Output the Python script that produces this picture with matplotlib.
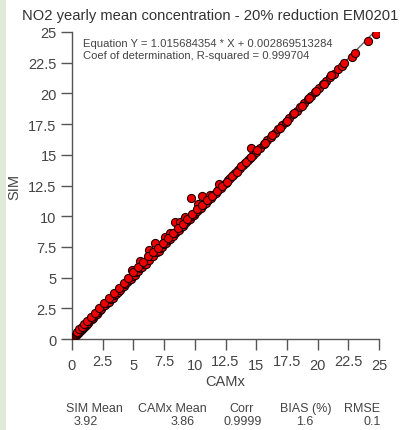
import matplotlib
matplotlib.use("Agg")
import matplotlib.pyplot as plt
from matplotlib.patches import Rectangle
import numpy as np

plt.rcParams['font.family'] = ['Liberation Sans', 'DejaVu Sans']

title = "NO2 yearly mean concentration - 20% reduction EM0201"
eq_text = "Equation Y = 1.015684354 * X + 0.002869513284"
r2_text = "Coef of determination, R-squared = 0.999704"
slope = 1.015684354
intercept = 0.002869513284

camx = [0.25, 0.3, 0.35, 0.4, 0.45, 0.5, 0.55, 0.6, 0.65, 0.7, 0.75, 0.8, 0.85, 0.9, 0.95,
        1.0, 1.05, 1.1, 1.15, 1.2, 1.3, 1.4, 1.5, 1.6, 1.7, 1.8, 1.9, 2.0,
        2.1, 2.25, 2.4, 2.55, 2.7, 2.85, 3.0, 3.15, 3.3, 3.45, 3.6, 3.75, 3.9, 4.05, 4.2,
        4.35, 4.5, 4.65, 4.8, 4.95, 5.1, 5.25, 5.4, 5.55, 5.7, 5.85, 6.0, 6.15, 6.3, 6.45,
        6.6, 6.75, 6.9,
        4.86, 5.54, 6.3, 6.76, 7.57, 8.39, 9.69, 10.56, 14.55,
        7.05, 7.2, 7.35, 7.5, 7.65, 7.8, 7.95, 8.1, 8.25, 8.4, 8.55, 8.7, 8.85, 9.0, 9.15,
        9.3, 9.45, 9.6, 9.75, 9.9, 10.05, 10.2, 10.35, 10.5, 10.7, 10.9, 11.1, 11.3, 11.5,
        11.7, 11.9, 12.1, 12.3, 12.5, 12.7, 12.9, 13.1, 13.3, 13.5, 13.7, 13.9, 14.1, 14.3,
        14.5, 14.75, 15.0,
        8.0, 8.8, 9.2, 10.3, 11.2, 12.0,
        15.3, 15.6, 15.9, 16.2, 16.5, 16.8, 17.1, 17.4, 17.7, 18.0, 18.3, 18.6, 18.9, 19.2,
        19.5, 19.8, 20.1, 20.4, 20.7, 21.0, 21.3, 21.7,
        22.0, 22.15, 22.77, 23.05, 24.08, 24.73,
        0.4, 0.6, 0.8, 1.0, 1.25, 1.55, 1.85, 2.2, 2.6, 3.0, 3.4, 3.8, 4.2, 4.6, 5.0, 5.4,
        5.8, 6.2, 6.6, 7.0, 7.4, 7.8, 8.2, 8.6, 9.0, 9.4, 9.8, 10.2, 10.6, 11.0, 11.4, 11.8,
        12.2, 12.6, 13.0, 13.4, 13.8, 14.2, 14.6, 15.1, 15.7, 16.3, 16.9, 17.5, 18.1, 18.7,
        19.3, 19.9, 20.5, 21.1]
sim = [0.27, 0.33, 0.36, 0.42, 0.47, 0.52, 0.57, 0.63, 0.66, 0.72, 0.77, 0.83, 0.87, 0.93, 0.97,
       1.03, 1.08, 1.12, 1.18, 1.24, 1.33, 1.43, 1.54, 1.63, 1.74, 1.84, 1.95, 2.04,
       2.16, 2.35, 2.44, 2.66, 2.76, 2.95, 3.05, 3.28, 3.37, 3.55, 3.70, 3.86, 3.99, 4.20, 4.29,
       4.50, 4.62, 4.80, 4.90, 5.12, 5.22, 5.45, 5.52, 5.75, 5.83, 6.10, 6.14, 6.40, 6.45, 6.75,
       6.76, 7.05, 7.08,
       5.62, 6.38, 7.27, 7.82, 8.28, 9.50, 11.50, 11.67, 15.53,
       7.20, 7.40, 7.50, 7.70, 7.82, 8.05, 8.12, 8.35, 8.42, 8.60, 8.78, 8.90, 9.10, 9.20, 9.38,
       9.50, 9.66, 9.80, 9.98, 10.10, 10.28, 10.40, 10.56, 10.70, 10.92, 11.10, 11.30, 11.52, 11.72,
       11.90, 12.12, 12.32, 12.52, 12.72, 12.92, 13.12, 13.35, 13.52, 13.74, 13.95, 14.15, 14.35, 14.55,
       14.75, 15.00, 15.25,
       8.65, 9.55, 9.95, 11.00, 11.75, 12.60,
       15.55, 15.88, 16.18, 16.48, 16.80, 17.10, 17.40, 17.70, 18.00, 18.30, 18.60, 18.92, 19.22, 19.52,
       19.82, 20.12, 20.42, 20.74, 21.05, 21.35, 21.62, 22.00,
       22.20, 22.50, 23.00, 23.26, 24.30, 24.84,
       0.55, 0.78, 0.97, 1.20, 1.45, 1.80, 2.10, 2.50, 2.90, 3.35, 3.75, 4.15, 4.60, 5.00, 5.45, 5.85,
       6.25, 6.75, 7.10, 7.45, 7.85, 8.20, 8.65, 9.00, 9.40, 9.75, 10.15, 10.55, 10.90, 11.30, 11.65, 12.05,
       12.45, 12.80, 13.25, 13.60, 14.05, 14.40, 14.85, 15.40, 15.95, 16.60, 17.15, 17.75, 18.40, 18.95,
       19.65, 20.20, 20.80, 21.50]

ticks = [0, 2.5, 5, 7.5, 10, 12.5, 15, 17.5, 20, 22.5, 25]
tick_labels = ["0", "2.5", "5", "7.5", "10", "12.5", "15", "17.5", "20", "22.5", "25"]

stat_names = ["SIM Mean", "CAMx Mean", "Corr", "BIAS (%)", "RMSE"]
stat_values = ["3.92", "3.86", "0.9999", "1.6", "0.1"]

W, H = 400, 431
fig = plt.figure(figsize=(W / 100, H / 100), dpi=100)
fig.patch.set_facecolor('white')
fig.patches.append(Rectangle((0, 0), 6 / W, 1, transform=fig.transFigure,
                             facecolor='#dfead9', edgecolor='none', zorder=0))

ax = fig.add_axes([72 / W, 1 - 340 / H, (379 - 72) / W, (340 - 33) / H])
ax.set_xlim(0, 25)
ax.set_ylim(0, 25)
for s in ['top', 'right']:
    ax.spines[s].set_visible(False)
for s in ['left', 'bottom']:
    ax.spines[s].set_color('#555555')
    ax.spines[s].set_linewidth(1.0)

xl = np.array([0, 24.9])
ax.plot(xl, slope * xl + intercept, color='#666666', lw=1.0, zorder=2)
ax.scatter(camx, sim, s=34, facecolor='#ee0000', edgecolor='#220000', linewidths=0.8, zorder=3)

ax.set_xticks(ticks)
ax.set_xticklabels(tick_labels)
ax.set_yticks(ticks)
ax.set_yticklabels(tick_labels)
ax.tick_params(axis='both', direction='out', length=8, width=1.0, color='#555555',
               labelcolor='#444444', labelsize=10.5)
ax.tick_params(axis='x', pad=6)
ax.tick_params(axis='y', pad=3)
for i, lab in enumerate(ax.get_xticklabels()):
    if '.' in tick_labels[i]:
        lab.set_y(0.014)

ax.set_xlabel("CAMx", fontsize=10.5, color='#444444', labelpad=1)
ax.set_ylabel("SIM", fontsize=10.5, color='#444444', labelpad=0)
ax.yaxis.set_label_coords(-(72 - 21) / 307, 0.5)

fig.text(22 / W, 1 - 16 / H, title, fontsize=10.65, color='#333333', ha='left', va='center')
ax.text(83 / W, 1 - 44 / H, eq_text, transform=fig.transFigure, fontsize=8.1,
        color='#444444', ha='left', va='center')
ax.text(83 / W, 1 - 56 / H, r2_text, transform=fig.transFigure, fontsize=8.1,
        color='#444444', ha='left', va='center')

name_x = [94, 172, 242, 306, 362]
val_x = [86, 183, 243, 305, 372]
for nx, vx, n, v in zip(name_x, val_x, stat_names, stat_values):
    fig.text(nx / W, 1 - 409 / H, n, fontsize=9, color='#444444', ha='center', va='center')
    fig.text(vx / W, 1 - 422 / H, v, fontsize=9, color='#444444', ha='center', va='center')

fig.savefig("out.png", dpi=100, facecolor=fig.get_facecolor())
